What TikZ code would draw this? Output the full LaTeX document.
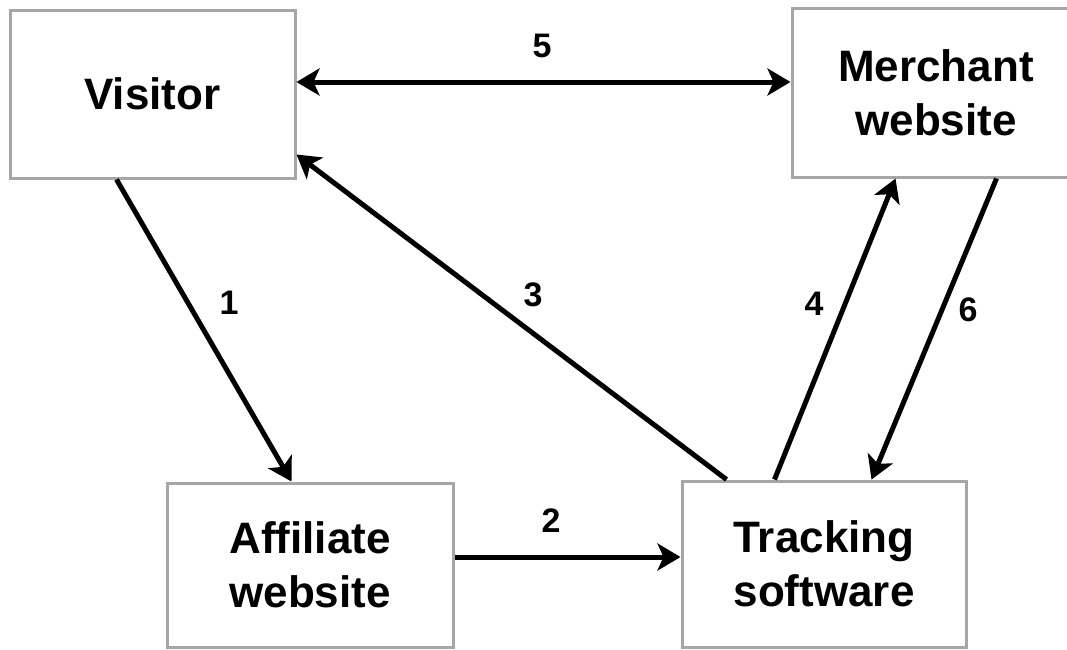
\documentclass[tikz,border=0pt]{standalone}
\usepackage{fontspec}
\setmainfont{Liberation Sans}
\usetikzlibrary{arrows.meta}
\tikzset{
  box/.style={draw=boxgray, line width=3pt, fill=white, rectangle, inner sep=0pt,
    align=center, font=\fontsize{44}{54}\selectfont\bfseries},
  tip/.style={},
  conn/.style={line width=5pt, -{Stealth[length=23pt,width=27pt,inset=6pt]}},
  biconn/.style={line width=5pt, {Stealth[length=23pt,width=27pt,inset=6pt]}-{Stealth[length=23pt,width=27pt,inset=6pt]}},
  num/.style={font=\fontsize{34}{40}\selectfont\bfseries, inner sep=0pt}
}
\definecolor{boxgray}{HTML}{A6A6A6}
\begin{document}
\begin{tikzpicture}[x=1pt,y=-1pt]
\useasboundingbox (0,0) rectangle (1067,649);
\node[box, minimum width=285pt, minimum height=168pt] (visitor) at (152.5,94) {Visitor};
\node[box, minimum width=288pt, minimum height=169pt] (merchant) at (936,92.5) {Merchant\\website};
\node[box, minimum width=286pt, minimum height=164pt] (affiliate) at (310,565) {Affiliate\\website};
\node[box, minimum width=284pt, minimum height=166pt] (tracking) at (824,564) {Tracking\\software};

\draw[biconn] ([yshift=12pt]visitor.east) -- ([yshift=10.5pt]merchant.west);
\draw[conn] ([xshift=108pt]visitor.south west) -- ([xshift=126pt]affiliate.north west);
\draw[conn] ([xshift=46pt]tracking.north west) -- ([yshift=25pt]visitor.south east);
\draw[conn] ([xshift=94pt]tracking.north west) -- ([xshift=105pt]merchant.south west);
\draw[conn] ([xshift=206pt]merchant.south west) -- ([xshift=191pt]tracking.north west);
\draw[conn] ([yshift=8pt]affiliate.east) -- ([yshift=7pt]tracking.west);

\node[num] (n5) at (542,46) {5};
\node[num] (n1) at (229,303) {1};
\node[num] (n3) at (533,295) {3};
\node[num] (n4) at (814,304) {4};
\node[num] (n6) at (968,310) {6};
\node[num] (n2) at (551,521) {2};
\end{tikzpicture}
\end{document}
